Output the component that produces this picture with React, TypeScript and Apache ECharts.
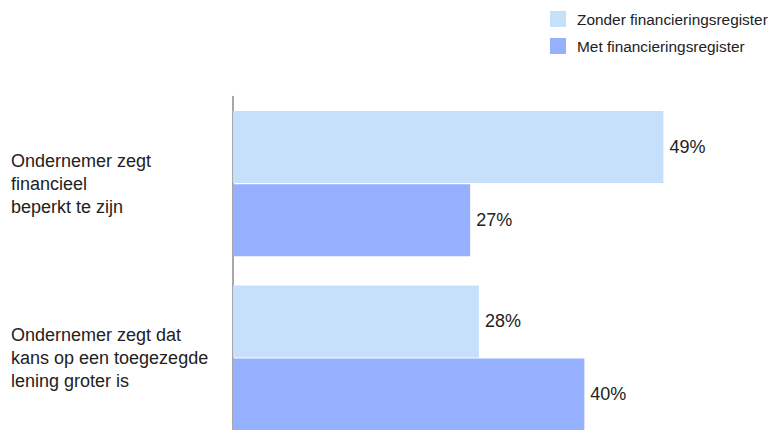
import React, { useEffect, useRef } from "react";
import * as echarts from "echarts";

const categories = [
  "Ondernemer zegt\nfinancieel\nbeperkt te zijn",
  "Ondernemer zegt dat\nkans op een toegezegde\nlening groter is",
];
const seriesNames = ["Zonder financieringsregister", "Met financieringsregister"];
const zonderValues = [49, 28];
const metValues = [27, 40];
const colors = ["#c6dffa", "#94b0fe"];

export default function App() {
  const ref = useRef<HTMLDivElement>(null);
  useEffect(() => {
    if (!ref.current) return;
    const chart = echarts.init(ref.current, undefined, { renderer: "svg" });
    const labelStyle = {
      show: true,
      position: "right" as const,
      distance: 6,
      formatter: "{c}%",
      fontSize: 18,
      color: "#222",
      fontFamily: "Liberation Sans, Arial, sans-serif",
    };
    chart.setOption({
      animation: false,
      textStyle: { fontFamily: "Liberation Sans, Arial, sans-serif" },
      legend: {
        orient: "vertical",
        left: 545,
        top: 6,
        width: 230,
        itemWidth: 16,
        itemHeight: 16,
        itemGap: 11,
        icon: "rect",
        data: seriesNames,
        textStyle: {
          fontSize: 15.4,
          color: "#222",
          padding: [0, 0, 0, 6],
          overflow: "none",
          width: 220,
        },
      },
      grid: { left: 233, right: 16, top: 96.5, height: 348.6, containLabel: false },
      xAxis: {
        type: "value",
        min: 0,
        max: 60,
        show: false,
      },
      yAxis: {
        type: "category",
        inverse: true,
        data: categories,
        axisLine: { show: true, lineStyle: { color: "#8a8a8a", width: 1.5 } },
        axisTick: { show: false },
        axisLabel: {
          align: "left",
          margin: 222,
          fontSize: 18,
          lineHeight: 23,
          color: "#222",
        },
      },
      series: [
        {
          name: seriesNames[0],
          type: "bar",
          data: zonderValues,
          barWidth: 72,
          barGap: "1.5%",
          itemStyle: { color: colors[0] },
          label: labelStyle,
        },
        {
          name: seriesNames[1],
          type: "bar",
          data: metValues,
          barWidth: 72,
          barGap: "1.5%",
          itemStyle: { color: colors[1] },
          label: labelStyle,
        },
      ],
    });
    return () => chart.dispose();
  }, []);
  return (
    <div style={{ width: 776, height: 438, margin: -8, overflow: "hidden" }}>
      <div ref={ref} style={{ width: 776, height: 470 }} />
    </div>
  );
}
